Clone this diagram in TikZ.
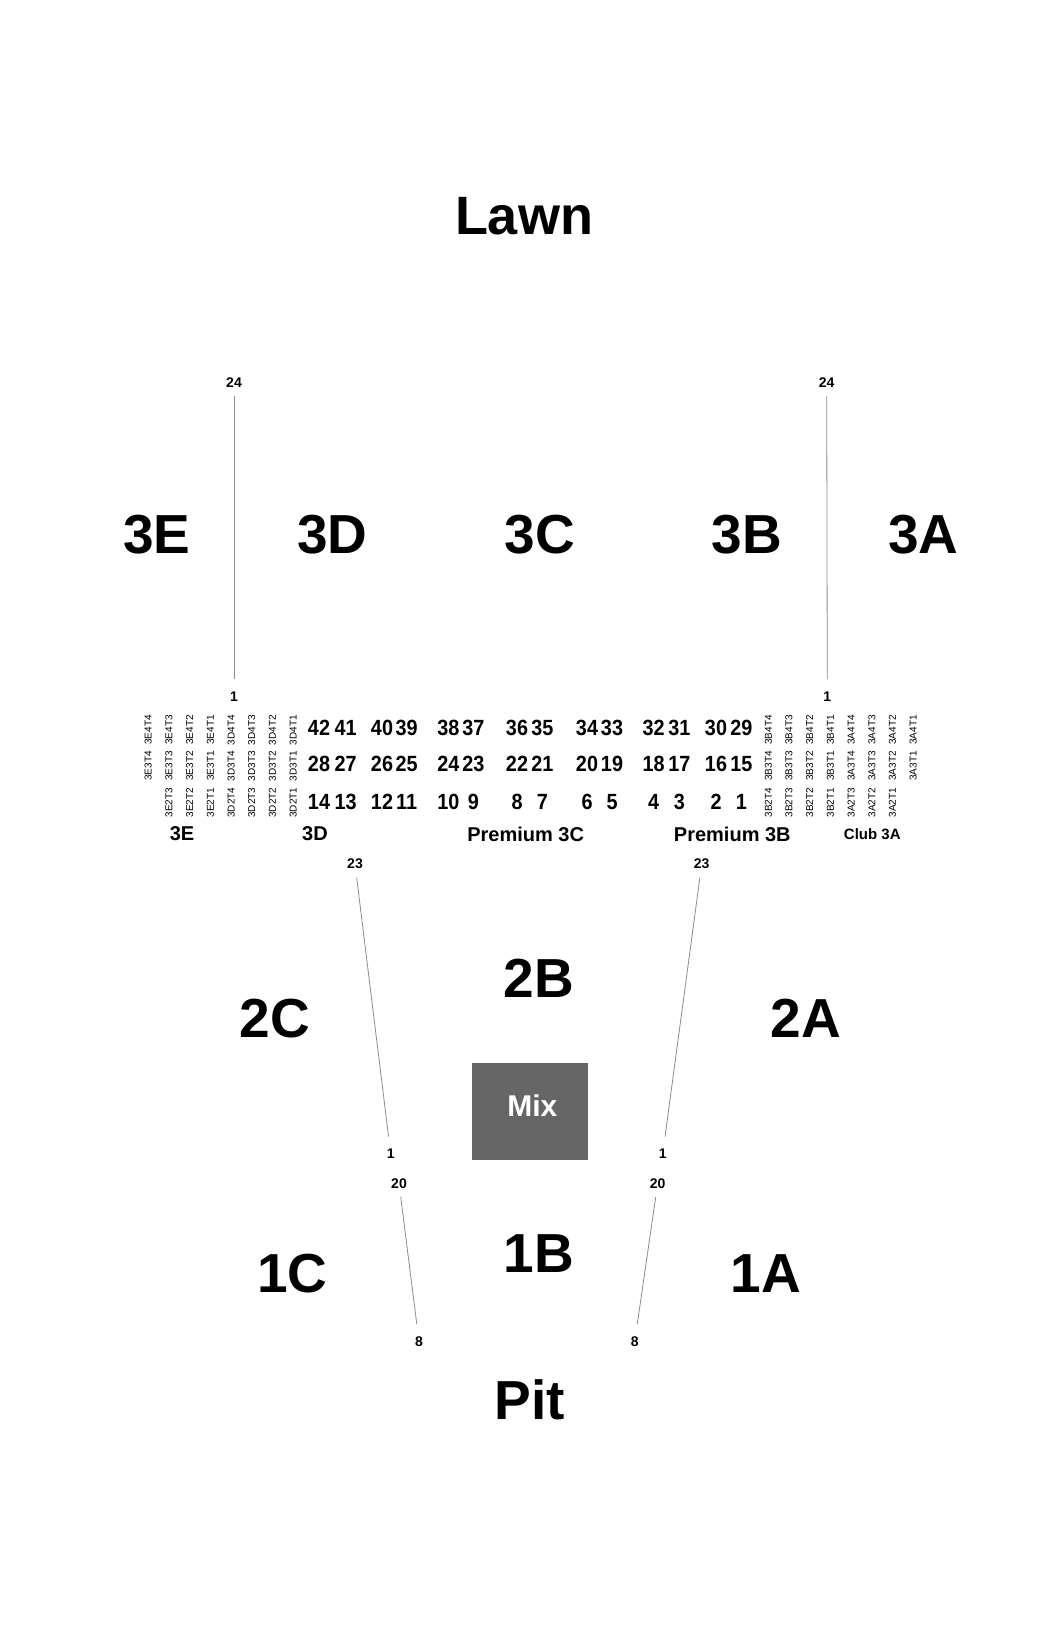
\documentclass[tikz,border=0pt]{standalone}
\usepackage{fontspec}
\setmainfont{Liberation Sans}
\usepackage{graphicx}
\usepackage{tikz}
\definecolor{aislegray}{HTML}{8C8C8C}
\definecolor{mixgray}{HTML}{666666}
\newcommand{\narrow}[1]{\scalebox{0.9}[1]{#1}}
\tikzstyle{sect} = [font=\fontsize{55}{60}\selectfont\bfseries, inner sep=0pt]
\tikzstyle{under} = [font=\fontsize{20}{24}\selectfont\bfseries, inner sep=0pt]
\tikzstyle{seat} = [font=\fontsize{22}{24}\selectfont\bfseries, inner sep=0pt]
\tikzstyle{tier} = [font=\fontsize{10}{12}\selectfont, rotate=90, inner sep=0pt]
\tikzstyle{rowno} = [font=\fontsize{14}{16}\selectfont\bfseries, inner sep=3pt]
\tikzstyle{aisle} = [draw=aislegray, line width=0.8pt, shorten <=5.5pt, shorten >=9.5pt]

\begin{document}
\begin{tikzpicture}[x=1pt,y=-1pt]
	\fill[white] (0,0) rectangle (1050,1640);
	\useasboundingbox (0,0) rectangle (1050,1640);
	\node[sect, font=\fontsize{54}{60}\selectfont\bfseries] (lawn) at (524,215.7) {Lawn};
	% upper level
	\node[sect] (s3E) at (157,535) {3E};
	\node[sect] (s3D) at (332.3,535) {3D};
	\node[sect] (s3C) at (539.7,535) {3C};
	\node[sect] (s3B) at (747,535) {3B};
	\node[sect] (s3A) at (923.3,535) {3A};
	\node[rowno] (top24l) at (234,382.7) {24};
	\node[rowno] (top1l) at (234,697) {1};
	\node[rowno] (top24r) at (826.7,382.7) {24};
	\node[rowno] (top1r) at (827.3,697) {1};
	\draw[aisle] (top24l) -- (top1l);
	\draw[aisle] (top24r) -- (top1r);
	% tables
	\foreach \sec/\x in {3E/148.3,3D/231.1,3B/768.3,3A/851.1}
		\foreach \t [count=\k from 0] in {4,3,2,1} {
			\node[tier] (\sec-4-\t) at (\x+20.7*\k,730) {\sec4T\t};
			\node[tier] (\sec-3-\t) at (\x+20.7*\k,766) {\sec3T\t};
		}
	\foreach \sec/\t/\x in {3E/3/169,3E/2/189.7,3E/1/210.4,3D/4/231.1,3D/3/251.8,3D/2/272.5,3D/1/293.2,
		3B/4/768.3,3B/3/789,3B/2/809.7,3B/1/830.4,3A/3/851.1,3A/2/871.8,3A/1/892.5}
		\node[tier] (\sec-2-\t) at (\x,802.7) {\sec2T\t};
	% boxes
	\foreach \x/\n in {319/14,345.7/13,382/12,406.7/11,448.3/10,473.3/9,517/8,542.3/7,
		587/6,612/5,653.7/4,679.3/3,716/2,741.3/1} {
		\pgfmathtruncatemacro{\seatb}{\n+14}
		\pgfmathtruncatemacro{\seatc}{\n+28}
		\node[seat] (box\n) at (\x,801.7) {\narrow{\n}};
		\node[seat] (box\seatb) at (\x,764) {\narrow{\seatb}};
		\node[seat] (box\seatc) at (\x,727.7) {\narrow{\seatc}};
	}
	\node[under] (u3E) at (182,834) {3E};
	\node[under] (u3D) at (315,834) {3D};
	\node[under] (u3C) at (525.7,834) {Premium 3C};
	\node[under] (u3B) at (732.3,834) {Premium 3B};
	\node[under, font=\fontsize{15}{18}\selectfont\bfseries] (u3A) at (872.3,834) {Club 3A};
	% level 2
	\node[sect] (s2C) at (275,1018.3) {2C};
	\node[sect] (s2B) at (539,978.3) {2B};
	\node[sect] (s2A) at (806,1018.3) {2A};
	\node[rowno] (mid23l) at (355,864) {23};
	\node[rowno] (mid1l) at (390.7,1154) {1};
	\node[rowno] (mid23r) at (701.7,864) {23};
	\node[rowno] (mid1r) at (662.7,1154) {1};
	\draw[aisle] (mid23l) -- (mid1l);
	\draw[aisle] (mid23r) -- (mid1r);
	\node[fill=mixgray, minimum width=116pt, minimum height=97.3pt, inner sep=0pt] (mix) at (530.3,1111.4) {};
	\node[text=white, font=\fontsize{30}{34}\selectfont\bfseries, inner sep=0pt] (mixlbl) at (532.3,1105.7) {Mix};
	% level 1
	\node[sect] (s1C) at (292.3,1273.7) {1C};
	\node[sect] (s1B) at (539,1254) {1B};
	\node[sect] (s1A) at (766,1273.7) {1A};
	\node[rowno] (low20l) at (399,1183.3) {20};
	\node[rowno] (low8l) at (419,1341.7) {8};
	\node[rowno] (low20r) at (657.7,1183.3) {20};
	\node[rowno] (low8r) at (634.7,1341.7) {8};
	\draw[aisle] (low20l) -- (low8l);
	\draw[aisle] (low20r) -- (low8r);
	\node[sect] (pit) at (530,1399.7) {Pit};
\end{tikzpicture}
\end{document}
